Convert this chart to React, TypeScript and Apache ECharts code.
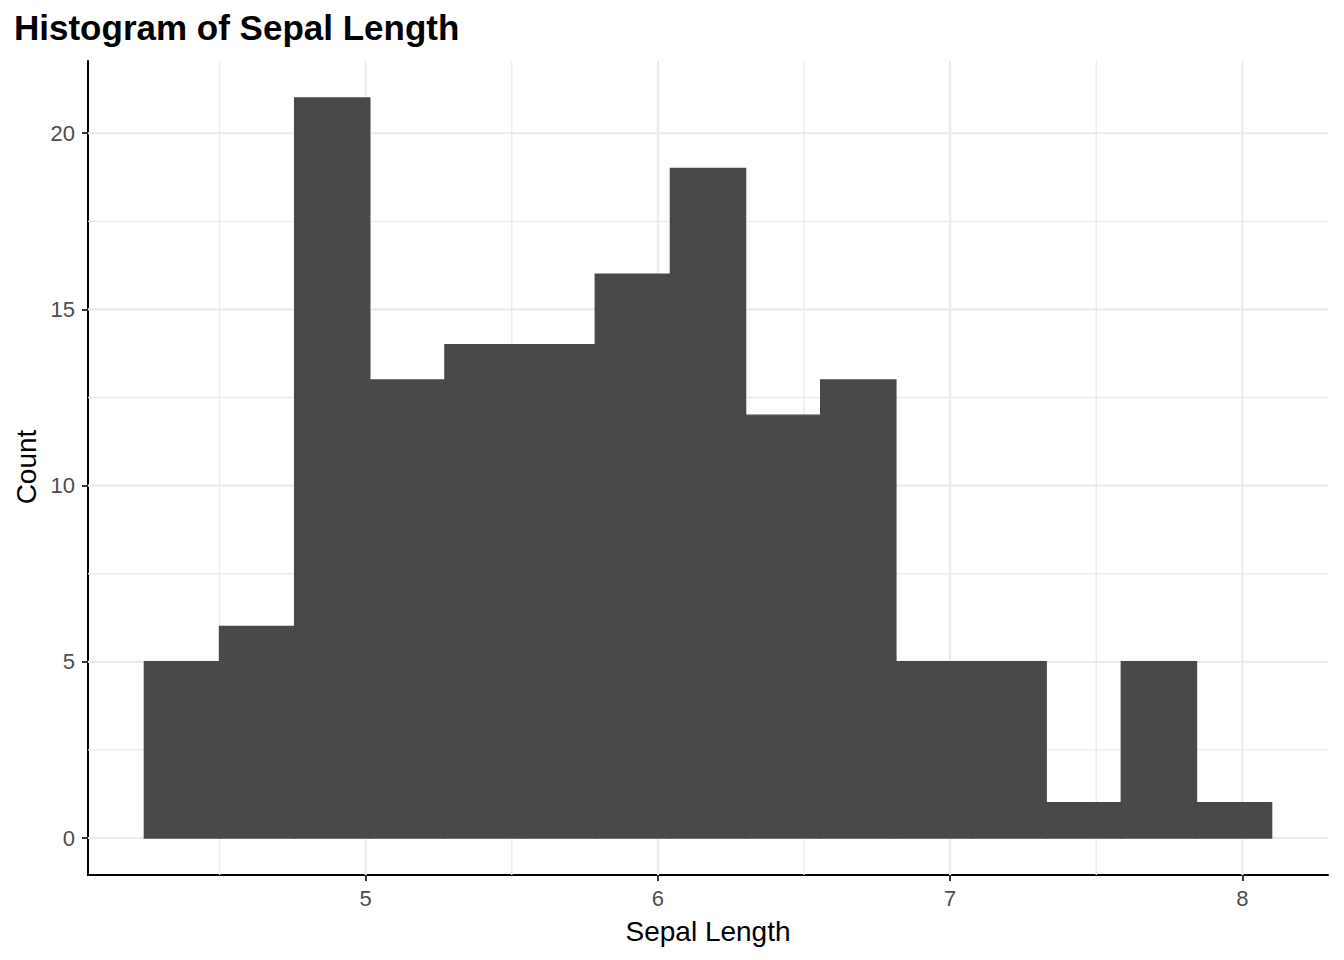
import React, { useEffect, useRef } from "react";
import * as echarts from "echarts";

const binEdges = [4.2429, 4.5, 4.7571, 5.0143, 5.2714, 5.5286, 5.7857, 6.0429, 6.3, 6.5571, 6.8143, 7.0714, 7.3286, 7.5857, 7.8429, 8.1];
const counts = [5, 6, 21, 13, 14, 14, 16, 19, 12, 13, 5, 5, 1, 5, 1];
const xTicks = [5, 6, 7, 8];
const xMinor = [4.5, 5.5, 6.5, 7.5];
const yTicks = [0, 5, 10, 15, 20];
const yMinor = [2.5, 7.5, 12.5, 17.5];
const xRange = [4.05, 8.2929];
const yRange = [-1.05, 22.05];

const titleText = "Histogram of Sepal Length";
const xTitle = "Sepal Length";
const yTitle = "Count";

const FONT = '"Liberation Sans", Arial, Helvetica, sans-serif';

function gridSeries(values: number[], vertical: boolean, width: number) {
  return {
    type: "custom",
    silent: true,
    z: 1,
    data: values.map((v) => (vertical ? [v, 0] : [xRange[0], v])),
    renderItem: (params: any, api: any) => {
      const cs = params.coordSys;
      const p = api.coord([api.value(0), api.value(1)]);
      const shape = vertical
        ? { x1: p[0], y1: cs.y, x2: p[0], y2: cs.y + cs.height }
        : { x1: cs.x, y1: p[1], x2: cs.x + cs.width, y2: p[1] };
      return { type: "line", shape, style: { stroke: "#ebebeb", lineWidth: width } };
    },
  };
}

export default function App() {
  const ref = useRef<HTMLDivElement>(null);
  useEffect(() => {
    document.body.style.margin = "0";
    const chart = echarts.init(ref.current!, null, { renderer: "svg" });
    const barData = counts.map((c, i) => [binEdges[i], binEdges[i + 1], c]);
    chart.setOption({
      animation: false,
      backgroundColor: "#ffffff",
      textStyle: { fontFamily: FONT },
      title: {
        text: titleText,
        left: 14,
        top: 10,
        padding: 0,
        textStyle: { fontSize: 35, fontWeight: "bold", color: "#000000", fontFamily: FONT },
      },
      grid: { left: 88, top: 61, right: 16, bottom: 85, containLabel: false },
      xAxis: {
        type: "value",
        min: xRange[0],
        max: xRange[1],
        axisLine: { show: true, onZero: false, lineStyle: { color: "#000000", width: 2 } },
        axisTick: { show: true, customValues: xTicks, length: 6, lineStyle: { color: "#333333", width: 2 } },
        axisLabel: { customValues: xTicks, fontSize: 22, color: "#4d4d4d", margin: 12, fontFamily: FONT },
        splitLine: { show: false },
      },
      yAxis: {
        type: "value",
        min: yRange[0],
        max: yRange[1],
        axisLine: { show: true, onZero: false, lineStyle: { color: "#000000", width: 2 } },
        axisTick: { show: true, customValues: yTicks, length: 6, lineStyle: { color: "#333333", width: 2 } },
        axisLabel: { customValues: yTicks, fontSize: 22, color: "#4d4d4d", margin: 13, fontFamily: FONT },
        splitLine: { show: false },
      },
      graphic: [
        {
          type: "text",
          x: 708,
          y: 931,
          style: { text: xTitle, fontSize: 28, fill: "#000000", align: "center", verticalAlign: "middle", fontFamily: FONT },
        },
        {
          type: "text",
          x: 26,
          y: 467,
          rotation: Math.PI / 2,
          style: { text: yTitle, fontSize: 28, fill: "#000000", align: "center", verticalAlign: "middle", fontFamily: FONT },
        },
      ],
      series: [
        gridSeries(xMinor, true, 1.4),
        gridSeries(yMinor, false, 1.4),
        gridSeries(xTicks, true, 2.2),
        gridSeries(yTicks, false, 2.2),
        {
          type: "custom",
          z: 3,
          data: barData,
          encode: { x: [0, 1], y: 2 },
          renderItem: (params: any, api: any) => {
            const p0 = api.coord([api.value(0), api.value(2)]);
            const p1 = api.coord([api.value(1), 0]);
            return {
              type: "rect",
              shape: { x: p0[0], y: p0[1], width: p1[0] - p0[0], height: p1[1] - p0[1] },
              style: { fill: "#494949", stroke: "#494949", lineWidth: 1.4 },
            };
          },
        },
      ],
    });
    return () => chart.dispose();
  }, []);
  return <div ref={ref} style={{ width: 1344, height: 960 }} />;
}
